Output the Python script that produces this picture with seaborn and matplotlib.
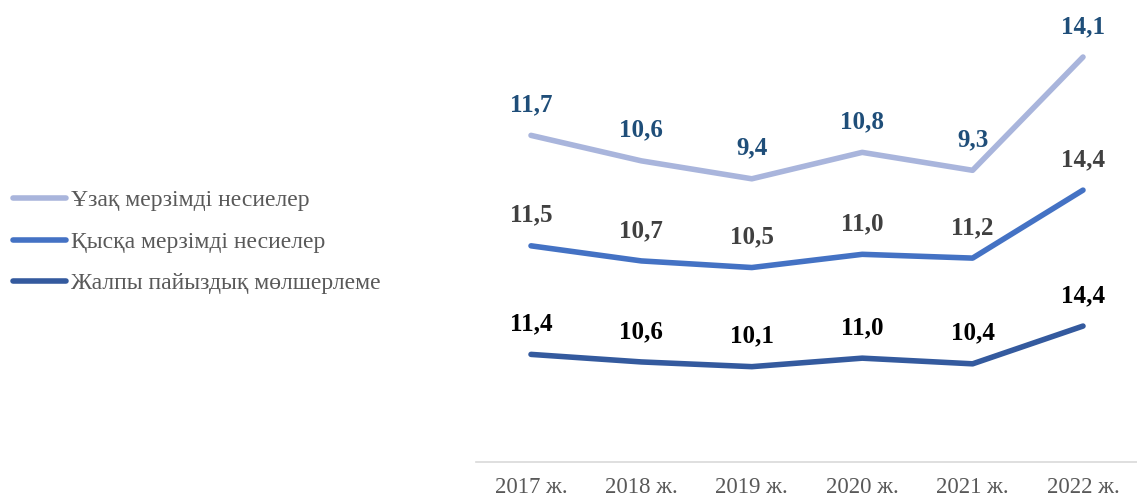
import numpy as np
import pandas as pd
import matplotlib
matplotlib.use("Agg")
import matplotlib.pyplot as plt
import seaborn as sns

years = ["2017 ж.", "2018 ж.", "2019 ж.", "2020 ж.", "2021 ж.", "2022 ж."]
jalpy = [11.4, 10.6, 10.1, 11.0, 10.4, 14.4]
qysqa = [11.5, 10.7, 10.5, 11.0, 11.2, 14.4]
uzaq = [11.7, 10.6, 9.4, 10.8, 9.3, 14.1]

names = ["Ұзақ мерзімді несиелер", "Қысқа мерзімді несиелер", "Жалпы пайыздық мөлшерлеме"]
colors = ["#A9B5DC", "#4472C4", "#345A9E"]
label_colors = ["#1F4E79", "#404040", "#000000"]

# stacked line chart (Excel style): each series sits on top of the one below
bottom = np.array(jalpy)
middle = bottom + np.array(qysqa)
top = middle + np.array(uzaq)

rows = []
for name, vals, raw in zip(names, [top, middle, bottom], [uzaq, qysqa, jalpy]):
    for i, y in enumerate(years):
        rows.append({"year": y, "pos": i, "series": name, "stacked": vals[i], "value": raw[i]})
df = pd.DataFrame(rows)

sns.set_theme(style="white")
plt.rcParams["font.family"] = ["Liberation Serif", "DejaVu Serif"]

fig = plt.figure(figsize=(11.37, 5.0), dpi=100)
ax = fig.add_axes([475.8 / 1137, 38 / 500, 662.4 / 1137, 462 / 500])

sns.lineplot(data=df, x="pos", y="stacked", hue="series", hue_order=names,
             palette=colors, linewidth=4, ax=ax, sort=False,
             solid_capstyle="round", solid_joinstyle="round")

for name, lc in zip(names, label_colors):
    sub = df[df["series"] == name]
    for _, r in sub.iterrows():
        ax.annotate(f"{r['value']:.1f}".replace(".", ","), (r["pos"], r["stacked"]),
                    xytext=(0, 22), textcoords="offset points",
                    ha="center", va="center", fontsize=18, fontweight="bold",
                    color=lc)

ax.set_xlim(-0.5, 5.5)
ax.set_ylim(0, 462 / 9.44)
ax.set_xticks(range(len(years)))
ax.set_xticklabels(years, fontsize=16.5, color="#595959")
ax.set_yticks([])
ax.set_xlabel("")
ax.set_ylabel("")
ax.tick_params(axis="x", length=0, pad=11)
for s in ["top", "right", "left"]:
    ax.spines[s].set_visible(False)
ax.spines["bottom"].set_color("#D9D9D9")
ax.spines["bottom"].set_linewidth(1.2)

handles, labels = ax.get_legend_handles_labels()
ax.legend_.remove()
leg = fig.legend(handles, labels, loc="center left", bbox_to_anchor=(0.003, 0.516),
                 frameon=False, fontsize=17, handlelength=2.25, handletextpad=0.2,
                 labelspacing=0.85, borderaxespad=0)
for t in leg.get_texts():
    t.set_color("#595959")
for h in leg.get_lines():
    h.set_linewidth(4)
    h.set_solid_capstyle("round")

fig.savefig("out.png", dpi=100)
